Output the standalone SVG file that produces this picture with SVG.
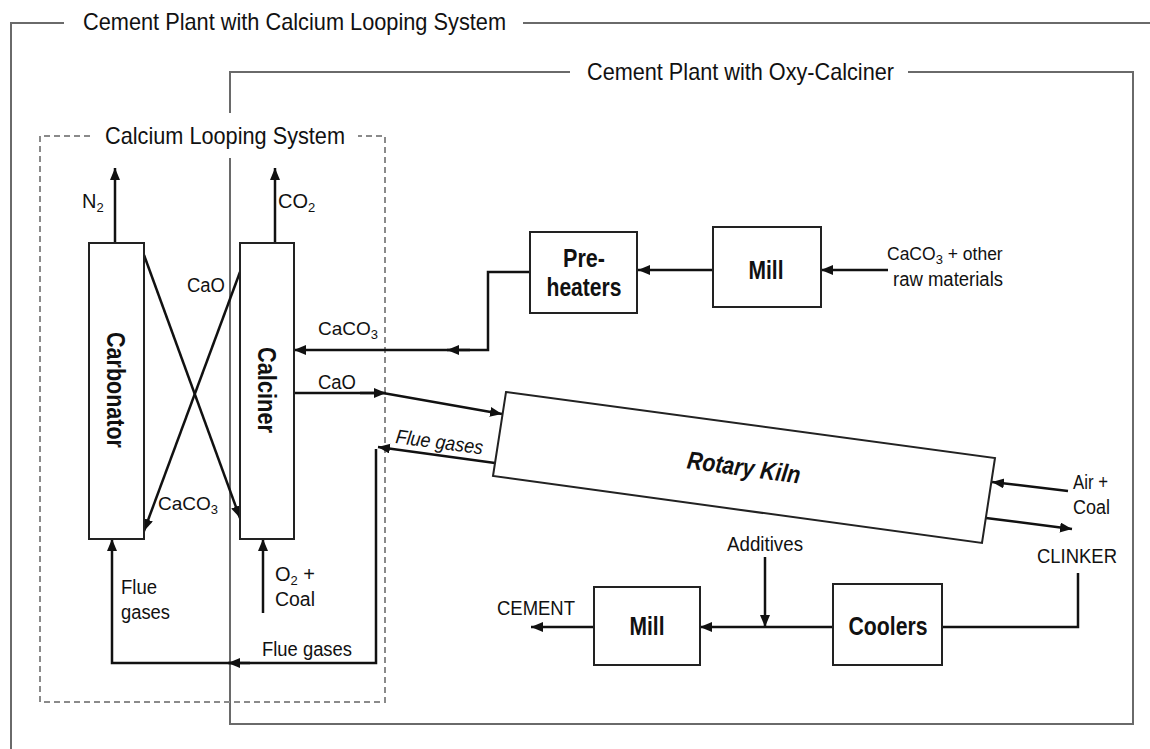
<svg xmlns="http://www.w3.org/2000/svg" width="1150" height="749" viewBox="0 0 1150 749">
<defs>
<marker id="ah" markerUnits="userSpaceOnUse" markerWidth="13" markerHeight="11" refX="12" refY="5" orient="auto">
<path d="M0,0 L12,5 L0,10 z" fill="#111"/>
</marker>
<style>
.frame{fill:none;stroke:#6a6a6a;stroke-width:2}
.dash{fill:none;stroke:#8a8a8a;stroke-width:2;stroke-dasharray:6,4}
.box{fill:#fff;stroke:#222;stroke-width:2}
.ln{fill:none;stroke:#111;stroke-width:2.5}
.arr{fill:none;stroke:#111;stroke-width:2.5;marker-end:url(#ah)}
.t{font-family:"Liberation Sans",Arial,sans-serif;font-size:20px;fill:#111}
.title{font-family:"Liberation Sans",Arial,sans-serif;font-size:24px;fill:#111}
.b{font-family:"Liberation Sans",Arial,sans-serif;font-size:25px;font-weight:bold;fill:#111;text-anchor:middle}
.sub{font-size:13px}
</style>
</defs>
<rect width="1150" height="749" fill="#fff"/>

<g id="frames">
<path class="frame" d="M64,23 H11 V749 M523,23 H1150"/>
<text class="title" x="83" y="30" textLength="423" lengthAdjust="spacingAndGlyphs">Cement Plant with Calcium Looping System</text>
<path class="frame" d="M570,72 H230 V113 M230,158 V724 H1133 V72 H908"/>
<text class="title" x="587" y="80" textLength="307" lengthAdjust="spacingAndGlyphs">Cement Plant with Oxy-Calciner</text>
<path class="dash" d="M90,136 H40 V702 H385 V136 H358"/>
<text class="title" x="105" y="144" textLength="240" lengthAdjust="spacingAndGlyphs">Calcium Looping System</text>
</g>

<g id="connectors">
<path class="arr" d="M115,243 V168"/>
<path class="arr" d="M275,243 V168"/>
<path class="arr" d="M144,255 L240,518"/>
<path class="arr" d="M240,272 L144,531"/>
<path class="arr" d="M530,272 H488 V350 H294"/>
<path class="arr" d="M470,350 H447"/>
<path class="arr" d="M713,270 H638"/>
<path class="arr" d="M888,270 H821"/>
<path class="arr" d="M294,393 H383 L502,414"/>
<path class="arr" d="M360,393 H386"/>
<path class="arr" d="M495,463 L378,447"/>
<path class="arr" d="M376,449 V663 H112 V539"/>
<path class="arr" d="M250,663 H228"/>
<path class="arr" d="M263,613 V539"/>
<path class="arr" d="M1068,491 L992,482"/>
<path class="arr" d="M986,518 L1072,529"/>
<path class="ln" d="M1078,573 V627 H942"/>
<path class="arr" d="M833,627 H700"/>
<path class="arr" d="M765,557 V627"/>
<path class="arr" d="M594,627 H531"/>
</g>

<g id="labels">
<text class="t" x="82" y="208">N<tspan class="sub" dy="4">2</tspan></text>
<text class="t" x="278" y="208">CO<tspan class="sub" dy="4">2</tspan></text>
<text class="t" x="187" y="292" textLength="38" lengthAdjust="spacingAndGlyphs">CaO</text>
<text class="t" x="318" y="335" style="font-size:19px">CaCO<tspan class="sub" dy="4">3</tspan></text>
<text class="t" x="318" y="389" textLength="38" lengthAdjust="spacingAndGlyphs">CaO</text>
<text class="t" x="158" y="510" style="font-size:19px">CaCO<tspan class="sub" dy="4">3</tspan></text>
<text class="t" x="121" y="594" textLength="36" lengthAdjust="spacingAndGlyphs">Flue</text>
<text class="t" x="121" y="619" textLength="49" lengthAdjust="spacingAndGlyphs">gases</text>
<text class="t" x="275" y="581">O<tspan class="sub" dy="4">2</tspan><tspan dy="-4"> +</tspan></text>
<text class="t" x="275" y="606" textLength="40" lengthAdjust="spacingAndGlyphs">Coal</text>
<text class="t" x="262" y="656" textLength="90" lengthAdjust="spacingAndGlyphs">Flue gases</text>
<text class="t" x="0" y="0" font-style="italic" textLength="88" lengthAdjust="spacingAndGlyphs" transform="translate(395,443) rotate(7.5)">Flue gases</text>
<text class="t" x="887" y="260" style="font-size:17.5px">CaCO<tspan class="sub" dy="4">3</tspan><tspan dy="-4"> + other</tspan></text>
<text class="t" x="893" y="286" textLength="110" lengthAdjust="spacingAndGlyphs">raw materials</text>
<text class="t" x="1073" y="489" textLength="35" lengthAdjust="spacingAndGlyphs">Air +</text>
<text class="t" x="1073" y="514" textLength="37" lengthAdjust="spacingAndGlyphs">Coal</text>
<text class="t" x="1037" y="563" textLength="80" lengthAdjust="spacingAndGlyphs">CLINKER</text>
<text class="t" x="727" y="551" textLength="76" lengthAdjust="spacingAndGlyphs">Additives</text>
<text class="t" x="497" y="615" textLength="78" lengthAdjust="spacingAndGlyphs">CEMENT</text>
</g>

<g id="carbonator">
<rect class="box" x="89" y="243" width="55" height="296"/>
<text class="b" transform="translate(116,390) rotate(90)" x="0" y="9" textLength="116" lengthAdjust="spacingAndGlyphs">Carbonator</text>
</g>
<g id="calciner">
<rect class="box" x="240" y="243" width="54" height="296"/>
<text class="b" transform="translate(267,390) rotate(90)" x="0" y="9" textLength="86" lengthAdjust="spacingAndGlyphs">Calciner</text>
</g>
<g id="preheaters">
<rect class="box" x="530" y="232" width="107" height="81"/>
<text class="b" x="584" y="267" textLength="42" lengthAdjust="spacingAndGlyphs">Pre-</text>
<text class="b" x="584" y="296" textLength="75" lengthAdjust="spacingAndGlyphs">heaters</text>
</g>
<g id="mill-raw">
<rect class="box" x="713" y="227" width="108" height="80"/>
<text class="b" x="766" y="279" textLength="35" lengthAdjust="spacingAndGlyphs">Mill</text>
</g>
<g id="rotary-kiln">
<polygon class="box" points="506,392 995,458 982,543 493,476"/>
<text class="b" font-style="italic" transform="translate(744,467) rotate(7.7)" x="0" y="9" textLength="114" lengthAdjust="spacingAndGlyphs">Rotary Kiln</text>
</g>
<g id="mill-cement">
<rect class="box" x="594" y="587" width="106" height="78"/>
<text class="b" x="647" y="635" textLength="35" lengthAdjust="spacingAndGlyphs">Mill</text>
</g>
<g id="coolers">
<rect class="box" x="833" y="584" width="109" height="81"/>
<text class="b" x="888" y="635" textLength="79" lengthAdjust="spacingAndGlyphs">Coolers</text>
</g>
</svg>
